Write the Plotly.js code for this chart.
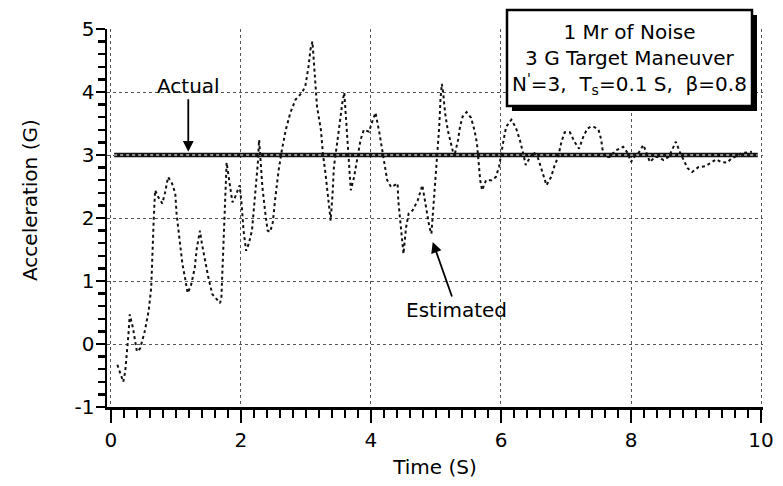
<!DOCTYPE html>
<html>
<head>
<meta charset="utf-8">
<script src="https://cdn.plot.ly/plotly-3.0.1.min.js"></script>
<style>html,body{margin:0;padding:0;background:#fff;}</style>
</head>
<body>
<div id="chart" style="width:783px;height:486px;"></div>
<script>
// Estimated target acceleration (G) versus time (S)
var estT = [0.10,0.19,0.22,0.24,0.27,0.29,0.34,0.40,0.45,0.52,0.58,0.62,0.64,0.66,0.68,0.73,0.79,0.83,0.88,0.94,
  0.99,1.01,1.04,1.07,1.10,1.14,1.18,1.23,1.29,1.32,1.37,1.40,1.45,1.50,1.56,1.63,1.68,1.70,1.72,1.74,
  1.76,1.78,1.84,1.87,1.91,1.98,2.01,2.04,2.08,2.12,2.17,2.22,2.26,2.28,2.30,2.33,2.37,2.41,2.45,2.49,
  2.53,2.58,2.63,2.69,2.76,2.84,2.94,2.99,3.04,3.07,3.10,3.12,3.14,3.17,3.23,3.26,3.30,3.34,3.38,3.41,
  3.43,3.48,3.52,3.56,3.59,3.61,3.64,3.66,3.69,3.74,3.79,3.84,3.89,3.97,4.02,4.07,4.13,4.18,4.22,4.25,
  4.31,4.36,4.41,4.42,4.44,4.46,4.49,4.50,4.54,4.58,4.64,4.72,4.79,4.84,4.87,4.90,4.93,4.96,4.99,5.03,
  5.05,5.07,5.09,5.11,5.14,5.18,5.23,5.28,5.34,5.37,5.41,5.47,5.54,5.59,5.63,5.66,5.68,5.71,5.77,5.85,
  5.92,5.97,6.00,6.04,6.08,6.16,6.23,6.29,6.34,6.38,6.44,6.50,6.57,6.64,6.70,6.77,6.83,6.88,6.93,6.98,
  7.06,7.13,7.20,7.27,7.33,7.38,7.44,7.50,7.54,7.56,7.60,7.67,7.76,7.88,7.95,8.00,8.05,8.12,8.19,8.24,
  8.29,8.37,8.42,8.50,8.58,8.64,8.69,8.75,8.81,8.87,8.94,9.04,9.14,9.24,9.31,9.38,9.48,9.55,9.62,9.70,
  9.79,9.86];
var estG = [-0.33,-0.60,-0.44,-0.23,0.15,0.47,0.25,-0.12,-0.07,0.20,0.52,0.89,1.64,2.01,2.44,2.33,2.23,2.39,2.65,2.55,
  2.39,2.07,1.80,1.53,1.27,1.05,0.81,0.92,1.21,1.51,1.80,1.59,1.32,1.05,0.79,0.71,0.65,0.75,1.30,2.00,
  2.60,2.88,2.45,2.25,2.33,2.52,2.23,1.80,1.48,1.59,1.80,2.33,2.87,3.24,2.87,2.49,2.12,1.80,1.78,1.93,
  2.33,2.76,3.08,3.40,3.67,3.88,3.99,4.09,4.41,4.68,4.80,4.47,4.15,3.77,3.40,3.03,2.71,2.33,1.96,2.39,
  2.81,3.19,3.56,3.83,3.99,3.67,3.24,2.81,2.44,2.65,2.92,3.24,3.40,3.37,3.53,3.67,3.35,3.03,2.76,2.60,
  2.49,2.52,2.55,2.28,2.07,1.85,1.59,1.43,1.85,2.07,2.12,2.28,2.52,2.23,2.01,1.85,1.75,2.17,2.60,3.03,
  3.45,3.90,4.13,3.99,3.67,3.40,3.19,2.97,3.24,3.45,3.61,3.68,3.59,3.40,3.19,2.87,2.60,2.44,2.60,2.60,
  2.65,2.81,3.03,3.24,3.45,3.56,3.43,3.24,3.03,2.84,2.95,3.05,2.95,2.71,2.52,2.65,2.85,2.97,3.21,3.36,
  3.36,3.21,3.10,3.30,3.42,3.45,3.44,3.40,3.25,3.10,2.97,2.97,3.07,3.13,3.03,2.89,2.97,3.04,3.16,3.03,
  2.89,2.97,2.97,2.92,2.97,3.10,3.21,3.05,2.92,2.79,2.73,2.81,2.82,2.89,2.93,2.89,2.88,2.95,2.98,3.03,
  3.04,3.05];
// Actual target acceleration (3 G maneuver)
var actT = [0.05, 9.95];
var actG = [3, 3];
// Axis ticks
var xTicks = [0, 2, 4, 6, 8, 10];
var yTicks = [-1, 0, 1, 2, 3, 4, 5];
// Texts
var boxLines = ["1 Mr of Noise", "3 G Target Maneuver", "N<sup>'</sup>=3,  T<sub>s</sub>=0.1 S,  β=0.8"];

var FONT = "DejaVu Sans, Arial, sans-serif";

var traces = [
  {x: actT, y: actG, type: 'scatter', mode: 'lines', line: {color: '#111', width: 4.5}, hoverinfo: 'skip', showlegend: false},
  {x: actT, y: actG, type: 'scatter', mode: 'lines', line: {color: '#bbb', width: 1.5, dash: 'dot'}, hoverinfo: 'skip', showlegend: false},
  {x: estT, y: estG, type: 'scatter', mode: 'lines', line: {color: '#111', width: 2, dash: 'dot'}, showlegend: false}
];

var axisCommon = {
  showline: true, linecolor: '#000', linewidth: 2.5, mirror: false,
  ticks: 'outside', tickcolor: '#000', tickwidth: 2.5, ticklen: 13,
  showgrid: true, gridcolor: '#555', gridwidth: 1, griddash: 'dot',
  zeroline: false, tickfont: {family: FONT, size: 20, color: '#000'}
};

// paper-coordinate helpers for the framed note (pixel positions of the box)
function px2x(px) { return (px - 107) / 656; }
function px2y(py) { return 1 - (py - 29) / 378; }

var layout = {
  width: 783, height: 486,
  margin: {l: 107, r: 20, t: 29, b: 79},
  paper_bgcolor: '#fff', plot_bgcolor: '#fff',
  font: {family: FONT, size: 20, color: '#000'},
  xaxis: Object.assign({}, axisCommon, {
    range: [-0.06, 10.03], tickvals: xTicks, ticktext: xTicks.map(String),
    minor: {dtick: 0.2, tick0: 0, ticks: 'outside', ticklen: 8, tickwidth: 2.5, tickcolor: '#000', showgrid: false},
    title: {text: 'Time (S)', font: {family: FONT, size: 20}, standoff: 10}
  }),
  yaxis: Object.assign({}, axisCommon, {
    range: [-1, 5], tickvals: yTicks, ticklen: 9, ticklabelstandoff: -3,
    ticktext: yTicks.map(function(v){return v < 0 ? '-' + Math.abs(v) : String(v);}),
    minor: {dtick: 0.2, tick0: 0, ticks: 'outside', ticklen: 7, tickwidth: 2.5, tickcolor: '#000', showgrid: false}
  }),
  yaxis2: {
    overlaying: 'y', side: 'right', anchor: 'x', matches: 'y', range: [-1, 5],
    showline: true, linecolor: '#000', linewidth: 2.5,
    ticks: 'outside', tickcolor: '#000', tickwidth: 2.5, ticklen: 13, tickvals: yTicks,
    showticklabels: false, showgrid: false, zeroline: false,
    minor: {dtick: 0.2, tick0: 0, ticks: 'outside', ticklen: 7, tickwidth: 2.5, tickcolor: '#000', showgrid: false}
  },
  shapes: [
    {type: 'rect', xref: 'paper', yref: 'paper', x0: px2x(512), x1: px2x(757), y0: px2y(111), y1: px2y(15),
     fillcolor: '#000', line: {color: '#000', width: 0}, layer: 'above'},
    {type: 'rect', xref: 'paper', yref: 'paper', x0: px2x(507), x1: px2x(752), y0: px2y(106), y1: px2y(10),
     fillcolor: '#fff', line: {color: '#000', width: 2.5}, layer: 'above'}
  ],
  annotations: [
    {xref: 'paper', yref: 'paper', x: px2x(629.5), y: px2y(59), xanchor: 'center', yanchor: 'middle',
     text: boxLines.join('<br>'), showarrow: false, font: {family: FONT, size: 20, color: '#000'}},
    {xref: 'paper', yref: 'paper', x: px2x(30), y: px2y(200), xanchor: 'center', yanchor: 'middle',
     text: 'Acceleration (G)', textangle: -90, showarrow: false, font: {family: FONT, size: 20, color: '#000'}},
    {x: 1.19, y: 3.05, xref: 'x', yref: 'y', text: 'Actual', showarrow: true,
     ax: 0, ay: -66, arrowhead: 2, arrowsize: 1.2, arrowwidth: 1.8, arrowcolor: '#000',
     font: {family: FONT, size: 20, color: '#000'}},
    {x: 4.95, y: 1.62, xref: 'x', yref: 'y', text: 'Estimated', showarrow: true,
     ax: 24, ay: 68, arrowhead: 2, arrowsize: 1.2, arrowwidth: 1.8, arrowcolor: '#000',
     font: {family: FONT, size: 20, color: '#000'}}
  ]
};

Plotly.newPlot('chart', traces, layout, {staticPlot: true, displayModeBar: false});
</script>
</body>
</html>
